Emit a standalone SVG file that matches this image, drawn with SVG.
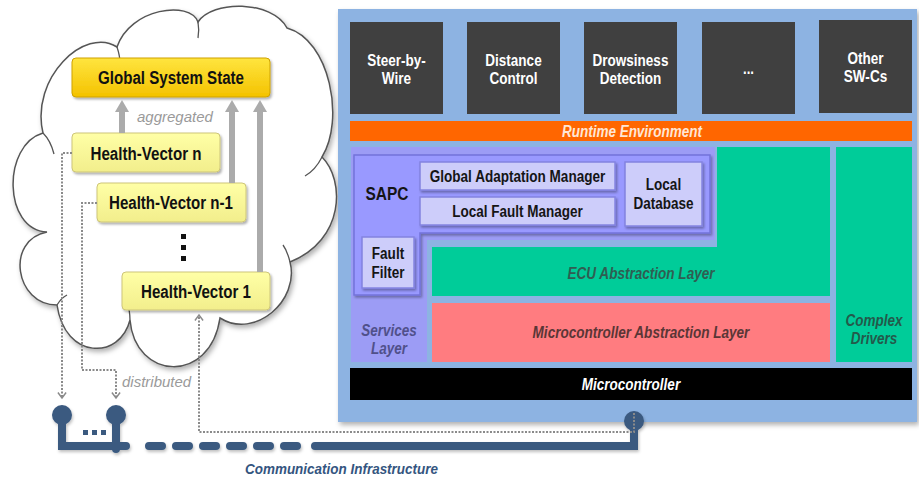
<svg xmlns="http://www.w3.org/2000/svg" width="919" height="477" viewBox="0 0 919 477">
<defs>
<style>
text { font-family: "Liberation Sans", Arial, sans-serif; }
.swc rect { fill:#404040; }
.swc text { fill:#ffffff; font-weight:bold; font-size:16px; text-anchor:middle; }
.lt { font-weight:bold; font-style:italic; font-size:16px; text-anchor:middle; }
.sbox { fill:#CDCDFA; stroke:#8383E0; stroke-width:1.5; filter:url(#sh2); }
.st { font-weight:bold; font-size:16px; text-anchor:middle; fill:#151515; }
.hv { fill:url(#gHV); stroke:#CDC57A; stroke-width:1; filter:url(#sh2); }
.ht { font-weight:bold; font-size:17.5px; text-anchor:middle; fill:#111111; }
.agg { stroke:#ABABAB; stroke-width:6; fill:none; marker-end:url(#mAgg); }
.dot { stroke:#8A8A8A; stroke-width:2; stroke-dasharray:2 1.5; fill:none; }
.net { stroke:#3B5A80; stroke-width:8; fill:none; stroke-linecap:round; }
.note { font-style:italic; font-size:15px; fill:#9A9A9A; }
.fold { fill:none; stroke:#555555; stroke-width:1.3; }
</style>
<linearGradient id="gGSS" x1="0" y1="0" x2="0" y2="1">
<stop offset="0" stop-color="#FFE53F"/><stop offset="1" stop-color="#F4C200"/>
</linearGradient>
<linearGradient id="gHV" x1="0" y1="0" x2="0" y2="1">
<stop offset="0" stop-color="#FFFFA6"/><stop offset="1" stop-color="#F2EE8C"/>
</linearGradient>
<filter id="sh" x="-10%" y="-10%" width="130%" height="130%">
<feDropShadow dx="2" dy="3" stdDeviation="2.5" flood-color="#000" flood-opacity="0.3"/>
</filter>
<filter id="sh2" x="-10%" y="-20%" width="130%" height="160%">
<feDropShadow dx="1.5" dy="2" stdDeviation="1.2" flood-color="#000" flood-opacity="0.3"/>
</filter>
<filter id="sh3" x="-5%" y="-50%" width="110%" height="200%">
<feDropShadow dx="1" dy="2" stdDeviation="1.5" flood-color="#000" flood-opacity="0.25"/>
</filter>
<marker id="mAgg" markerUnits="userSpaceOnUse" markerWidth="13" markerHeight="14" refX="1" refY="7" orient="auto" viewBox="0 0 13 14">
<path d="M0,0 L12,7 L0,14 Z" fill="#ABABAB"/>
</marker>
<marker id="mChev" markerUnits="userSpaceOnUse" markerWidth="10" markerHeight="10" refX="6" refY="4.5" orient="auto" viewBox="-1 -1 9 11">
<path d="M0,0 L6,4.5 L0,9" fill="none" stroke="#8A8A8A" stroke-width="1.6"/>
</marker>
</defs>

<rect width="919" height="477" fill="#ffffff"/>

<!-- Cloud -->
<g id="cloud">
<path d="M 47,232 C 3,230 2,145 43,133 C 30,78 85,26 117,47 C 130,8 190,0 198,22 C 212,0 272,0 287,28 C 330,40 345,120 322,157 C 345,180 345,240 290,262 C 300,300 255,340 220,318 C 210,385 135,380 130,320 C 120,360 65,360 57,305 C 15,305 5,240 47,232 Z" fill="#ffffff" stroke="#555555" stroke-width="1.5" filter="url(#sh)"/>
<path class="fold" d="M 43,133 C 48,138 52,146 54,154"/>
<path class="fold" d="M 117,47 C 119,53 120,58 120,63"/>
<path class="fold" d="M 198,22 C 199,28 199,33 198,38"/>
<path class="fold" d="M 322,157 C 318,165 312,172 305,176"/>
<path class="fold" d="M 290,262 C 288,254 286,249 283,245"/>
<path class="fold" d="M 130,320 C 130,313 129,308 127,303"/>
<path class="fold" d="M 57,305 C 60,300 63,297 67,295"/>
</g>

<!-- Right panel -->
<g id="panel">
<rect x="338" y="9" width="579" height="413" fill="#8DB3E2" filter="url(#sh)"/>
</g>

<g id="swc-steer" class="swc"><rect x="350" y="22" width="93" height="92"/><text x="396.5" y="66" textLength="58.5" lengthAdjust="spacingAndGlyphs">Steer-by-</text><text x="396.5" y="84" textLength="29.3" lengthAdjust="spacingAndGlyphs">Wire</text></g>
<g id="swc-distance" class="swc"><rect x="467" y="22" width="93" height="92"/><text x="513.5" y="66" textLength="56.3" lengthAdjust="spacingAndGlyphs">Distance</text><text x="513.5" y="84" textLength="48" lengthAdjust="spacingAndGlyphs">Control</text></g>
<g id="swc-drowsiness" class="swc"><rect x="584" y="22" width="93" height="92"/><text x="630.5" y="66" textLength="75.8" lengthAdjust="spacingAndGlyphs">Drowsiness</text><text x="630.5" y="84" textLength="61.5" lengthAdjust="spacingAndGlyphs">Detection</text></g>
<g id="swc-more" class="swc"><rect x="702" y="22" width="93" height="92"/><text x="748.5" y="74" textLength="11" lengthAdjust="spacingAndGlyphs">...</text></g>
<g id="swc-other" class="swc"><rect x="819" y="20" width="93" height="93"/><text x="865.5" y="64" textLength="36" lengthAdjust="spacingAndGlyphs">Other</text><text x="865.5" y="82" textLength="43.5" lengthAdjust="spacingAndGlyphs">SW-Cs</text></g>

<g id="rte"><rect x="350" y="121" width="562" height="20" fill="#FF6600"/><text class="lt" x="632" y="137" fill="#FFE6D5" textLength="140" lengthAdjust="spacingAndGlyphs">Runtime Environment</text></g>

<g id="services-layer">
<path d="M 351,147 H 715 V 240 H 427 V 362 H 351 Z" fill="#9C9CF5"/>
<text class="lt" x="389" y="336" fill="#50508A" textLength="55.5" lengthAdjust="spacingAndGlyphs">Services</text>
<text class="lt" x="389" y="354" fill="#50508A" textLength="36" lengthAdjust="spacingAndGlyphs">Layer</text>
</g>

<g id="sapc">
<path d="M 354,155 H 710 V 233 H 420 V 295 H 354 Z" fill="#9999FF" stroke="#7373DA" stroke-width="1.5" filter="url(#sh2)"/>
<text x="387" y="199.5" font-weight="bold" font-size="18px" text-anchor="middle" fill="#151515" textLength="43" lengthAdjust="spacingAndGlyphs">SAPC</text>
</g>
<g id="gam"><rect class="sbox" x="420" y="162" width="195" height="28"/><text class="st" x="517.5" y="182" textLength="175.5" lengthAdjust="spacingAndGlyphs">Global Adaptation Manager</text></g>
<g id="lfm"><rect class="sbox" x="420" y="197" width="195" height="28"/><text class="st" x="517.5" y="217" textLength="130.5" lengthAdjust="spacingAndGlyphs">Local Fault Manager</text></g>
<g id="ldb"><rect class="sbox" x="625" y="162" width="77" height="64"/><text class="st" x="663.5" y="190" textLength="35.3" lengthAdjust="spacingAndGlyphs">Local</text><text class="st" x="663.5" y="209" textLength="60" lengthAdjust="spacingAndGlyphs">Database</text></g>
<g id="fault-filter"><rect class="sbox" x="362" y="237" width="52" height="51"/><text class="st" x="388" y="259" textLength="32.3" lengthAdjust="spacingAndGlyphs">Fault</text><text class="st" x="388" y="278" textLength="33" lengthAdjust="spacingAndGlyphs">Filter</text></g>

<g id="ecu">
<path d="M 717,147 H 830 V 296 H 432 V 247 H 717 Z" fill="#00CC99"/>
<text class="lt" x="641" y="279" fill="#2F5E52" textLength="147" lengthAdjust="spacingAndGlyphs">ECU Abstraction Layer</text>
</g>
<g id="mcal">
<rect x="432" y="303" width="398" height="59" fill="#FF7C80"/>
<text class="lt" x="641" y="338" fill="#5A3636" textLength="216.8" lengthAdjust="spacingAndGlyphs">Microcontroller Abstraction Layer</text>
</g>
<g id="complex-drivers">
<rect x="836" y="147" width="76" height="215" fill="#00CC99"/>
<text class="lt" x="874" y="326" fill="#235A4B" textLength="57" lengthAdjust="spacingAndGlyphs">Complex</text>
<text class="lt" x="874" y="344" fill="#235A4B" textLength="46.5" lengthAdjust="spacingAndGlyphs">Drivers</text>
</g>
<g id="microcontroller">
<rect x="350" y="368" width="562" height="32" fill="#000000"/>
<text class="lt" x="631" y="390" fill="#ffffff" textLength="98.3" lengthAdjust="spacingAndGlyphs">Microcontroller</text>
</g>

<!-- Left nodes -->
<g id="global-system-state">
<rect x="72" y="58" width="198" height="39" rx="4" fill="url(#gGSS)" stroke="#CFA200" stroke-width="1" filter="url(#sh2)"/>
<text class="ht" x="171" y="84" textLength="146" lengthAdjust="spacingAndGlyphs">Global System State</text>
</g>
<g id="hv-n"><rect class="hv" x="72" y="133" width="148" height="39" rx="4"/><text class="ht" x="146" y="159.5" textLength="111" lengthAdjust="spacingAndGlyphs">Health-Vector n</text></g>
<g id="hv-n1"><rect class="hv" x="97" y="183" width="149" height="39" rx="4"/><text class="ht" x="171" y="209" textLength="124" lengthAdjust="spacingAndGlyphs">Health-Vector n-1</text></g>
<g id="vdots"><rect x="181" y="234" width="5" height="5" fill="#111"/><rect x="181" y="245" width="5" height="5" fill="#111"/><rect x="181" y="256" width="5" height="5" fill="#111"/></g>
<g id="hv-1"><rect class="hv" x="122" y="272" width="148" height="38" rx="4"/><text class="ht" x="196" y="297.5" textLength="110" lengthAdjust="spacingAndGlyphs">Health-Vector 1</text></g>

<!-- Connectors -->
<g id="connectors">
<path class="agg" d="M 122,133 V 111"/>
<path class="agg" d="M 232,183 V 111"/>
<path class="agg" d="M 260,272 V 111"/>
<text class="note" x="137" y="122">aggregated</text>

<g filter="url(#sh3)">
<path class="net" d="M 62,416 V 446 H 126"/>
<path class="net" d="M 116,416 V 449"/>
<path class="net" d="M 149,446 H 300" stroke-dasharray="13 14"/>
<path class="net" d="M 315,446 H 634 V 424"/>
<circle cx="62" cy="415" r="10" fill="#3B5A80"/>
<circle cx="116" cy="415" r="10" fill="#3B5A80"/>
<circle cx="634" cy="421" r="10" fill="#3B5A80"/>
</g>
<rect x="83" y="430" width="5" height="5" fill="#3B5A80"/>
<rect x="92" y="430" width="5" height="5" fill="#3B5A80"/>
<rect x="101" y="430" width="5" height="5" fill="#3B5A80"/>

<path class="dot" d="M 72,153 H 62 V 398" marker-end="url(#mChev)"/>
<path class="dot" d="M 97,203 H 82 V 370 H 116 V 398" marker-end="url(#mChev)"/>
<path class="dot" d="M 634,413 V 432 H 199 V 315" marker-end="url(#mChev)"/>
<text class="note" x="122" y="387">distributed</text>
<text x="245" y="473.5" font-weight="bold" font-style="italic" font-size="15.5px" fill="#34557F" textLength="193" lengthAdjust="spacingAndGlyphs">Communication Infrastructure</text>
</g>
</svg>
